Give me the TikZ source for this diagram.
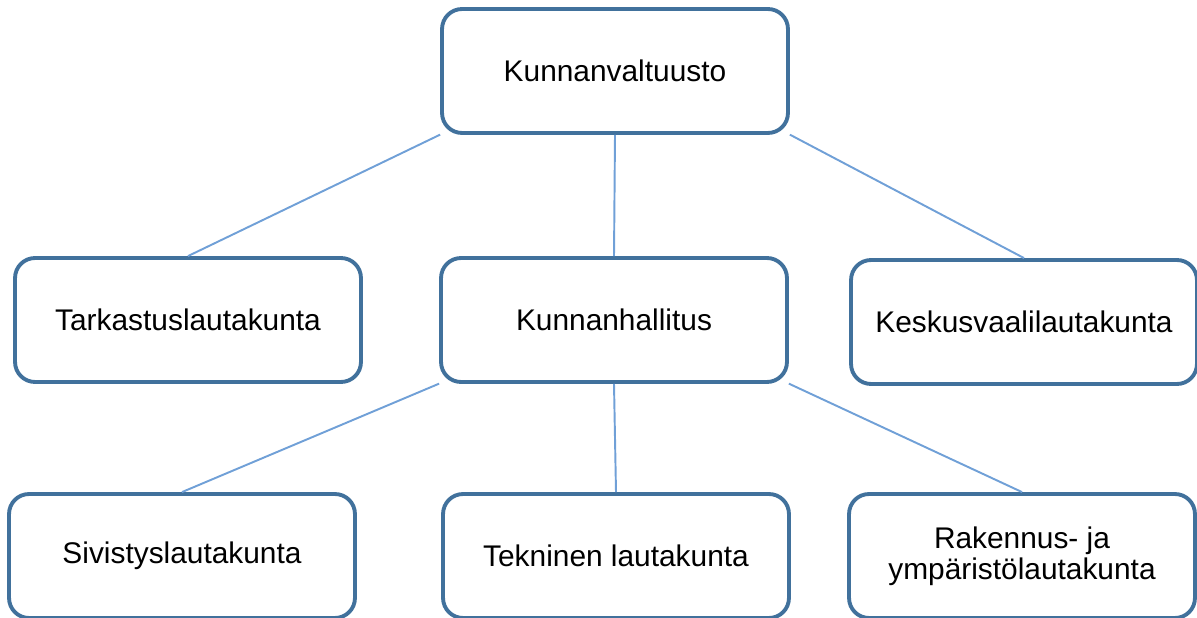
\documentclass[tikz,border=0pt]{standalone}
\usepackage{fontspec}
\setmainfont{Liberation Sans}
\usepackage{tikz}
\usetikzlibrary{calc}
\definecolor{boxline}{RGB}{65,113,156}
\definecolor{linkline}{RGB}{112,160,215}
\tikzstyle{board}=[rectangle,draw=boxline,fill=white,line width=2.2pt,minimum width=6.92cm,minimum height=2.48cm,rounded corners=0.4cm,align=center,font=\fontsize{17}{17.5}\selectfont]
\tikzstyle{link}=[draw=linkline,line width=1.1pt]

\begin{document}
\begin{tikzpicture}[x=0.02cm,y=-0.02cm,inner sep=1mm]
\useasboundingbox (0,0) rectangle (1197,618);
\def \rowa {71};
\def \rowb {320};
\def \rowc {556};

\node[board] (valtuusto) at (615, \rowa) {Kunnanvaltuusto};

\node[board] (tarkastus) at (188, \rowb) {Tarkastuslautakunta};
\node[board] (hallitus) at (614, \rowb) {Kunnanhallitus};
\node[board] (vaali) at (1024, \rowb+2) {Keskusvaalilautakunta};

\node[board] (sivistys) at (182, \rowc) {Sivistyslautakunta};
\node[board] (tekninen) at (616, \rowc) {Tekninen lautakunta};
\node[board] (rakennus) at (1022, \rowc) {Rakennus- ja\\ympäristölautakunta};

\draw[link] (valtuusto.200) -- (tarkastus.north);
\draw[link] (valtuusto.south) -- (hallitus.north);
\draw[link] (valtuusto.340) -- (vaali.north);

\draw[link] (hallitus.200) -- (sivistys.north);
\draw[link] (hallitus.south) -- (tekninen.north);
\draw[link] (hallitus.340) -- (rakennus.north);

\end{tikzpicture}
\end{document}
